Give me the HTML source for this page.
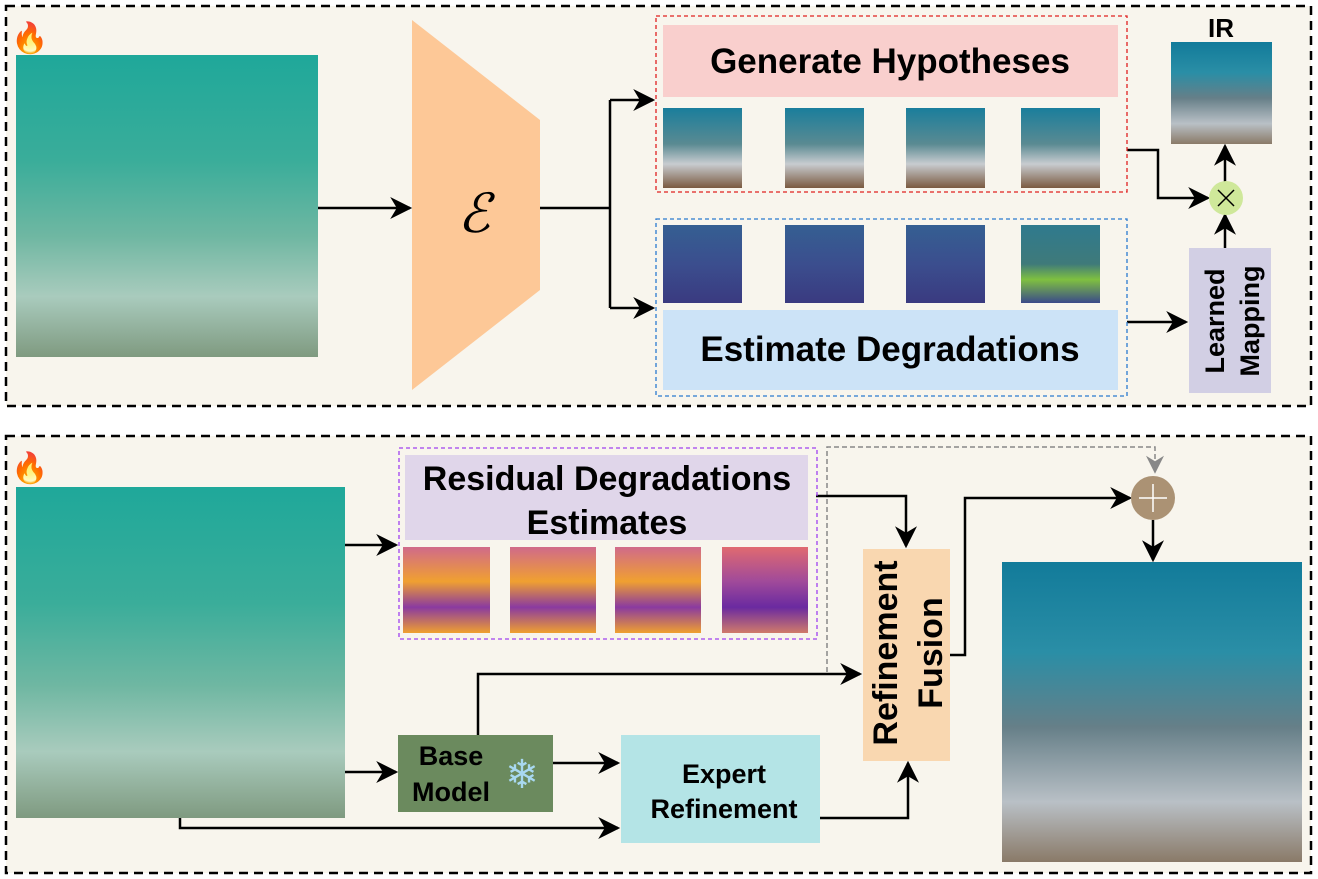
<!DOCTYPE html>
<html><head><meta charset="utf-8"><style>
html,body{margin:0;padding:0;background:#fff}
svg{display:block;font-family:"Liberation Sans",sans-serif}
</style></head><body>
<svg width="1318" height="879" viewBox="0 0 1318 879" xmlns="http://www.w3.org/2000/svg">
<defs>
<marker id="ah" viewBox="0 0 10 10" refX="9" refY="5" markerWidth="26" markerHeight="22" markerUnits="userSpaceOnUse" orient="auto"><path d="M0,0 L10,5 L0,10 L3,5z" fill="#000"/></marker>
<marker id="ag" viewBox="0 0 10 10" refX="9" refY="5" markerWidth="20" markerHeight="18" markerUnits="userSpaceOnUse" orient="auto"><path d="M0,0 L10,5 L0,10 L3,5z" fill="#888"/></marker>
<linearGradient id="uw" x1="0" y1="0" x2="0" y2="1"><stop offset="0" stop-color="#1fa89a"/><stop offset="0.35" stop-color="#3aad9a"/><stop offset="0.6" stop-color="#6fb7a2"/><stop offset="0.8" stop-color="#a9cbbd"/><stop offset="1" stop-color="#7f9a80"/></linearGradient>
<linearGradient id="out" x1="0" y1="0" x2="0" y2="1"><stop offset="0" stop-color="#127b9a"/><stop offset="0.3" stop-color="#2a8ea6"/><stop offset="0.55" stop-color="#667f88"/><stop offset="0.8" stop-color="#b9c0c6"/><stop offset="1" stop-color="#8a7a68"/></linearGradient>
<linearGradient id="hyp" x1="0" y1="0" x2="0" y2="1"><stop offset="0" stop-color="#1a7e9c"/><stop offset="0.45" stop-color="#5a8a92"/><stop offset="0.7" stop-color="#c8ccd0"/><stop offset="1" stop-color="#7a5a40"/></linearGradient>
<linearGradient id="deg" x1="0" y1="0" x2="0" y2="1"><stop offset="0" stop-color="#355f92"/><stop offset="0.5" stop-color="#3b4e8e"/><stop offset="1" stop-color="#3a3a80"/></linearGradient>
<linearGradient id="deg4" x1="0" y1="0" x2="0" y2="1"><stop offset="0" stop-color="#2f7a8e"/><stop offset="0.5" stop-color="#3f7a7a"/><stop offset="0.7" stop-color="#7fc040"/><stop offset="1" stop-color="#3a4a8a"/></linearGradient>
<linearGradient id="pl" x1="0" y1="0" x2="0" y2="1"><stop offset="0" stop-color="#d06a8a"/><stop offset="0.4" stop-color="#f0a030"/><stop offset="0.7" stop-color="#8a3aa0"/><stop offset="1" stop-color="#f0a030"/></linearGradient>
<linearGradient id="pl4" x1="0" y1="0" x2="0" y2="1"><stop offset="0" stop-color="#e06a70"/><stop offset="0.4" stop-color="#a04a9a"/><stop offset="0.7" stop-color="#6a2aa0"/><stop offset="1" stop-color="#d07a6a"/></linearGradient>
</defs>
<rect x="6" y="6" width="1305" height="400" fill="#f8f5ed" stroke="#000" stroke-width="2.5" stroke-dasharray="9,6"/>
<rect x="6" y="436" width="1305" height="437" fill="#f8f5ed" stroke="#000" stroke-width="2.5" stroke-dasharray="9,6"/>
<text x="11" y="48" font-size="30">🔥</text>
<text x="11" y="478" font-size="30">🔥</text>
<rect x="16" y="55" width="302" height="302" fill="url(#uw)"/>
<polygon points="412,20 540,120 540,290 412,390" fill="#fdc897"/>
<text x="474" y="232" font-size="54" font-family="Liberation Serif,serif" font-style="italic" text-anchor="middle">ℰ</text>
<g stroke="#000" stroke-width="2.5" fill="none">
<line x1="318" y1="208" x2="410" y2="208" marker-end="url(#ah)"/>
<polyline points="540,208 610,208"/>
<polyline points="610,100 610,308"/>
<line x1="610" y1="100" x2="653" y2="100" marker-end="url(#ah)"/>
<line x1="610" y1="308" x2="653" y2="308" marker-end="url(#ah)"/>
<polyline points="1127,150 1158,150 1158,198 1208,198" marker-end="url(#ah)"/>
<line x1="1225" y1="182" x2="1225" y2="146" marker-end="url(#ah)"/>
<line x1="1225" y1="248" x2="1225" y2="215" marker-end="url(#ah)"/>
<line x1="1127" y1="322" x2="1186" y2="322" marker-end="url(#ah)"/>
</g>
<rect x="656" y="16" width="471" height="176" fill="none" stroke="#e02020" stroke-width="1.3" stroke-dasharray="4,3"/>
<rect x="663" y="25" width="455" height="72" fill="#f9cfcd"/>
<text x="890" y="73" font-size="35" font-weight="bold" text-anchor="middle">Generate Hypotheses</text>
<rect x="663" y="108" width="79" height="80" fill="url(#hyp)"/>
<rect x="785" y="108" width="79" height="80" fill="url(#hyp)"/>
<rect x="906" y="108" width="79" height="80" fill="url(#hyp)"/>
<rect x="1021" y="108" width="79" height="80" fill="url(#hyp)"/>
<rect x="656" y="219" width="471" height="177" fill="none" stroke="#2a7ad0" stroke-width="1.3" stroke-dasharray="4,3"/>
<rect x="663" y="225" width="79" height="78" fill="url(#deg)"/>
<rect x="785" y="225" width="79" height="78" fill="url(#deg)"/>
<rect x="906" y="225" width="79" height="78" fill="url(#deg)"/>
<rect x="1021" y="225" width="79" height="78" fill="url(#deg4)"/>
<rect x="663" y="310" width="455" height="80" fill="#cce3f7"/>
<text x="890" y="361" font-size="35" font-weight="bold" text-anchor="middle">Estimate Degradations</text>
<text x="1221" y="37" font-size="26" font-weight="bold" text-anchor="middle">IR</text>
<rect x="1171" y="42" width="101" height="102" fill="url(#out)"/>
<circle cx="1226" cy="198" r="17" fill="#cfe89a"/>
<path d="M1218,190 L1234,206 M1234,190 L1218,206" stroke="#000" stroke-width="1.5"/>
<rect x="1189" y="248" width="82" height="145" fill="#d2cfe4"/>
<text transform="translate(1224,321) rotate(-90)" font-size="27" font-weight="bold" text-anchor="middle">Learned</text>
<text transform="translate(1259,321) rotate(-90)" font-size="27" font-weight="bold" text-anchor="middle">Mapping</text>
<rect x="16" y="487" width="329" height="331" fill="url(#uw)"/>
<polyline points="827,672 827,447 1155,447 1155,472" fill="none" stroke="#888" stroke-width="1.5" stroke-dasharray="5,3" marker-end="url(#ag)"/>
<g stroke="#000" stroke-width="2.5" fill="none">
<line x1="345" y1="545" x2="396" y2="545" marker-end="url(#ah)"/>
<polyline points="816,496 906,496 906,546" marker-end="url(#ah)"/>
<polyline points="950,655 965,655 965,498 1130,498" marker-end="url(#ah)"/>
<line x1="1153" y1="520" x2="1153" y2="560" marker-end="url(#ah)"/>
<line x1="345" y1="772" x2="396" y2="772" marker-end="url(#ah)"/>
<line x1="553" y1="763" x2="618" y2="763" marker-end="url(#ah)"/>
<polyline points="478,735 478,674 860,674" marker-end="url(#ah)"/>
<polyline points="820,818 908,818 908,763" marker-end="url(#ah)"/>
<polyline points="180,818 180,828 618,828" marker-end="url(#ah)"/>
</g>
<rect x="399" y="448" width="418" height="191" fill="none" stroke="#a040f0" stroke-width="1.3" stroke-dasharray="4,3"/>
<rect x="405" y="455" width="403" height="85" fill="#e0d6ea"/>
<text x="607" y="490" font-size="34" font-weight="bold" text-anchor="middle">Residual Degradations</text>
<text x="607" y="534" font-size="34" font-weight="bold" text-anchor="middle">Estimates</text>
<rect x="403" y="547" width="87" height="86" fill="url(#pl)"/>
<rect x="510" y="547" width="86" height="86" fill="url(#pl)"/>
<rect x="615" y="547" width="86" height="86" fill="url(#pl)"/>
<rect x="722" y="547" width="86" height="86" fill="url(#pl4)"/>
<rect x="863" y="549" width="87" height="212" fill="#f9d7b0"/>
<text transform="translate(897,653) rotate(-90)" font-size="34" font-weight="bold" text-anchor="middle">Refinement</text>
<text transform="translate(942,653) rotate(-90)" font-size="34" font-weight="bold" text-anchor="middle">Fusion</text>
<circle cx="1153" cy="498" r="22" fill="#ab9274"/>
<path d="M1139,498 H1167 M1153,484 V512" stroke="#fff" stroke-width="1.5"/>
<rect x="1002" y="562" width="300" height="300" fill="url(#out)"/>
<rect x="398" y="735" width="155" height="77" fill="#6b8a5e"/>
<text x="451" y="765" font-size="27" font-weight="bold" text-anchor="middle">Base</text>
<text x="451" y="801" font-size="27" font-weight="bold" text-anchor="middle">Model</text>
<text x="522" y="788" font-size="40" fill="#a8d8f0" text-anchor="middle">❄</text>
<rect x="621" y="735" width="199" height="108" fill="#b4e4e6"/>
<text x="724" y="783" font-size="27" font-weight="bold" text-anchor="middle">Expert</text>
<text x="724" y="818" font-size="27" font-weight="bold" text-anchor="middle">Refinement</text>
</svg>
</body></html>
